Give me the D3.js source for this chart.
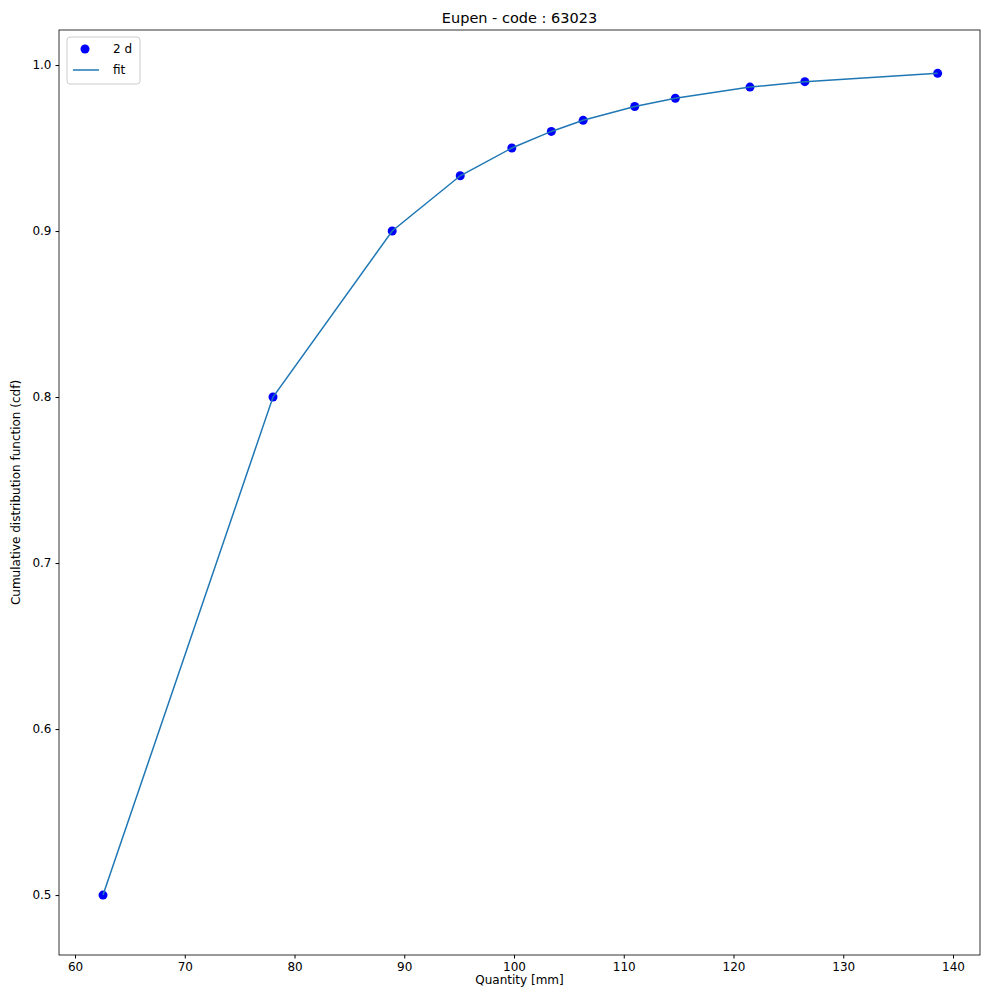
<!DOCTYPE html>
<html><head><meta charset="utf-8">
<script src="https://cdn.jsdelivr.net/npm/d3@7"></script>
<style>body{margin:0;background:#fff}svg{font-family:"DejaVu Sans",sans-serif}</style>
</head><body><svg id="chart" width="989" height="989"></svg>
<script>
// data
const quantity = [62.55, 78.04, 88.9, 95.1, 99.8, 103.4, 106.3, 111.0, 114.7, 121.5, 126.5, 138.6];
const cdf = [0.5, 0.8, 0.9, 0.9333, 0.95, 0.96, 0.9667, 0.975, 0.98, 0.9867, 0.99, 0.995];
const xTicks = [60, 70, 80, 90, 100, 110, 120, 130, 140];
const yTicks = [0.5, 0.6, 0.7, 0.8, 0.9, 1.0];

const svg = d3.select('#chart');
const m = { left: 59, right: 980, top: 30, bottom: 955 };
const x = d3.scaleLinear().domain([58.54, 142.46]).range([m.left, m.right]);
const y = d3.scaleLinear().domain([0.4639, 1.0211]).range([m.bottom, m.top]);
const pts = quantity.map((q, i) => [q, cdf[i]]);

// ── Axes ──────────────────────────────────────────
const xAxis = svg.append('g').attr('transform', `translate(0,${m.bottom})`)
  .call(d3.axisBottom(x).tickValues(xTicks).tickSize(3.5).tickPadding(4).tickSizeOuter(0));
const yAxis = svg.append('g').attr('transform', `translate(${m.left},0)`)
  .call(d3.axisLeft(y).tickValues(yTicks).tickFormat(d3.format('.1f')).tickSize(3.5).tickPadding(4).tickSizeOuter(0));
[xAxis, yAxis].forEach(a => {
  a.selectAll('text').attr('font-size', 12).attr('fill', '#000').attr('font-family', '"DejaVu Sans"');
  a.select('.domain').remove();
});

svg.append('rect').attr('x', m.left).attr('y', m.top)
  .attr('width', m.right - m.left).attr('height', m.bottom - m.top)
  .attr('fill', 'none').attr('stroke', '#000').attr('stroke-width', 0.8);

// ── Marks ─────────────────────────────────────────
svg.append('g').selectAll('circle').data(pts).join('circle')
  .attr('cx', d => x(d[0])).attr('cy', d => y(d[1])).attr('r', 4.5).attr('fill', '#0000ff');

svg.append('path').datum(pts)
  .attr('d', d3.line().x(d => x(d[0])).y(d => y(d[1])))
  .attr('fill', 'none').attr('stroke', '#1f77b4').attr('stroke-width', 1.5);

// ── Labels ────────────────────────────────────────
svg.append('text').attr('x', (m.left + m.right) / 2).attr('y', 23).attr('text-anchor', 'middle')
  .attr('font-size', 14.5).text('Eupen - code : 63023');
svg.append('text').attr('x', (m.left + m.right) / 2).attr('y', 984).attr('text-anchor', 'middle')
  .attr('font-size', 12).text('Quantity [mm]');
svg.append('text').attr('transform', `translate(20,${(m.top + m.bottom) / 2}) rotate(-90)`)
  .attr('text-anchor', 'middle').attr('font-size', 12).text('Cumulative distribution function (cdf)');

// ── Legend ────────────────────────────────────────
const lg = svg.append('g').attr('transform', 'translate(67,37)');
lg.append('rect').attr('width', 73).attr('height', 47).attr('rx', 3)
  .attr('fill', '#fff').attr('stroke', '#ccc');
lg.append('circle').attr('cx', 18).attr('cy', 12).attr('r', 4.5).attr('fill', '#0000ff');
lg.append('text').attr('x', 46).attr('y', 16).attr('font-size', 12).text('2 d');
lg.append('line').attr('x1', 6).attr('x2', 32).attr('y1', 33).attr('y2', 33)
  .attr('stroke', '#1f77b4').attr('stroke-width', 1.5);
lg.append('text').attr('x', 46).attr('y', 37).attr('font-size', 12).text('fit');
</script></body></html>
